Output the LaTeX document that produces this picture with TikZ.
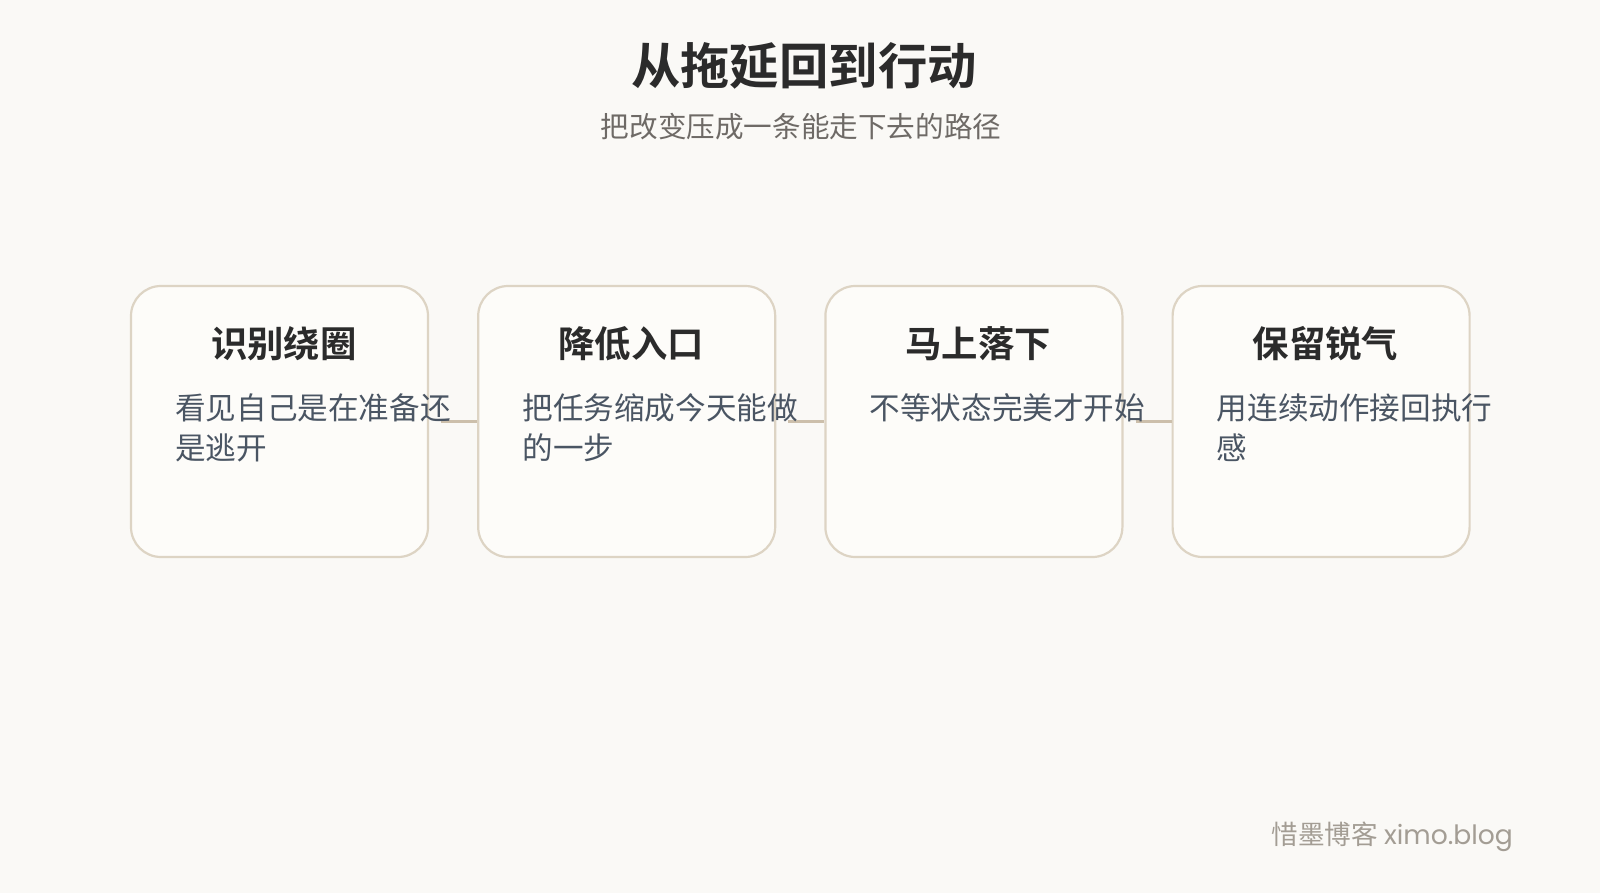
\documentclass[tikz,border=0pt]{standalone}
\usepackage{fontspec}
\setmainfont{Noto Sans CJK SC}[BoldFont={Noto Sans CJK SC Bold}]
\newfontfamily\latinfont{Poppins}
\usetikzlibrary{positioning,calc}
\definecolor{paper}{HTML}{FAF9F6}
\definecolor{cardfill}{HTML}{FDFCF9}
\definecolor{cardedge}{HTML}{DDD4C4}
\definecolor{linkline}{HTML}{CCBFAB}
\definecolor{titleink}{HTML}{2B2B2B}
\definecolor{subink}{HTML}{6E6A66}
\definecolor{bodyink}{HTML}{4A5563}
\definecolor{footink}{HTML}{A39D94}
\tikzset{
  card/.style = {draw=cardedge, line width=1.1pt, fill=cardfill, rounded corners=15pt,
    minimum width=148.5pt, minimum height=135.5pt, inner sep=0pt},
  cardtitle/.style = {text=titleink, font=\fontsize{18.2}{22}\selectfont\bfseries, inner sep=0pt},
  cardtext/.style = {text=bodyink, font=\fontsize{15.3}{20}\selectfont, align=left, anchor=north west, inner sep=0pt},
  link/.style = {draw=linkline, line width=1.5pt}
}

\begin{document}
\begin{tikzpicture}
  \fill[paper] (0,0) rectangle (800pt,-446.5pt);
  \useasboundingbox (0,0) rectangle (800pt,-446.5pt);
  \node (title) at (402pt,-33pt) [text=titleink, font=\fontsize{24.7}{29}\selectfont\bfseries] {从拖延回到行动};
  \node (subtitle) at (400.5pt,-63.5pt) [text=subink, font=\fontsize{14.3}{18}\selectfont] {把改变压成一条能走下去的路径};
  % the four steps
  \node (b1) at (139.75pt,-210.75pt) [card] {};
  \node (b2) [card, right=24pt of b1] {};
  \node (b3) [card, right=24pt of b2] {};
  \node (b4) [card, right=24pt of b3] {};
  \draw[link] ([xshift=6pt]b1.east) -- (b2.west);
  \draw[link] ([xshift=6pt]b2.east) -- (b3.west);
  \draw[link] ([xshift=6pt]b3.east) -- (b4.west);
  \node (t1) at ($(b1.north)+(2.2pt,-29.5pt)$) [cardtitle] {识别绕圈};
  \node (t2) at ($(b2.north)+(2.2pt,-29.5pt)$) [cardtitle] {降低入口};
  \node (t3) at ($(b3.north)+(2.2pt,-29.5pt)$) [cardtitle] {马上落下};
  \node (t4) at ($(b4.north)+(2.2pt,-29.5pt)$) [cardtitle] {保留锐气};
  \node (d1) at ($(b1.north west)+(22.5pt,-54pt)$) [cardtext] {看见自己是在准备还\\是逃开};
  \node (d2) at ($(b2.north west)+(22.5pt,-54pt)$) [cardtext] {把任务缩成今天能做\\的一步};
  \node (d3) at ($(b3.north west)+(22.5pt,-54pt)$) [cardtext] {不等状态完美才开始};
  \node (d4) at ($(b4.north west)+(22.5pt,-54pt)$) [cardtext] {用连续动作接回执行\\感};
  \node (foot) at (760pt,-418.5pt) [anchor=east, text=footink, font=\fontsize{13.3}{16}\selectfont] {惜墨博客 {\latinfont ximo.blog}};
\end{tikzpicture}
\end{document}
